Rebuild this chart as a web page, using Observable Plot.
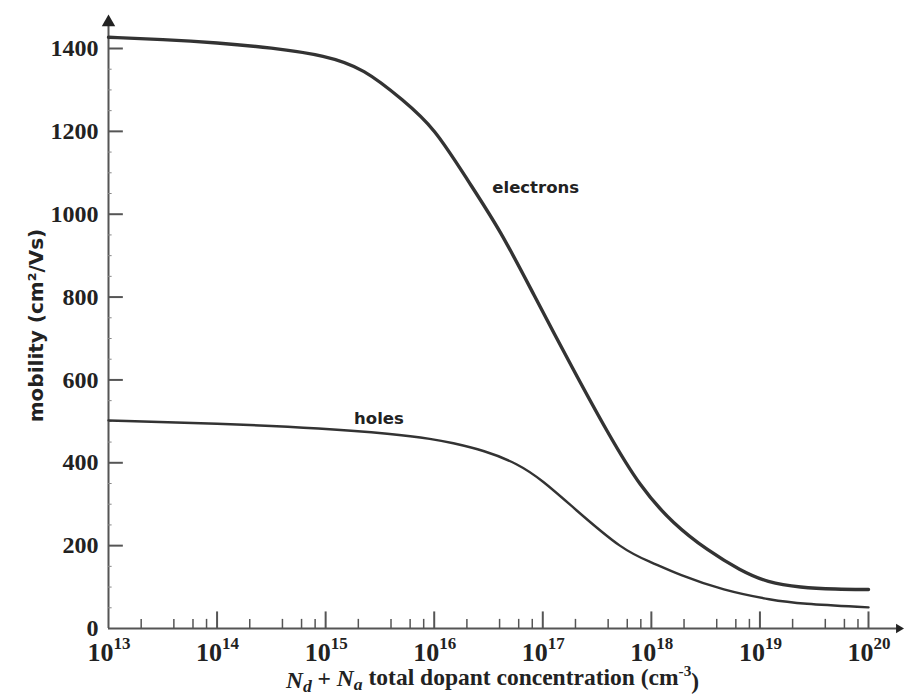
<!DOCTYPE html>
<html><head><meta charset="utf-8">
<script src="https://cdn.jsdelivr.net/npm/d3@7"></script>
<script src="https://cdn.jsdelivr.net/npm/@observablehq/plot@0.6"></script>
<style>body{margin:0;background:#fff} #chart svg{display:block}</style>
</head><body><div id="chart"></div>
<script>
// Si carrier mobility vs total dopant concentration; x given as log10(cm^-3)
const electronLogConc = [13, 13.5, 14, 14.5, 15, 15.35, 15.72, 16, 16.31, 16.61, 16.91, 17.28, 17.6, 17.9, 18.2, 18.52, 18.82, 19.07, 19.37, 19.7, 20];
const electronMobility = [1427, 1422, 1414, 1402, 1383, 1352, 1274, 1209, 1081, 961, 809, 625, 471, 340, 253, 188, 140, 111, 99, 95, 94];
const holeLogConc = [13, 14, 15, 15.6, 16, 16.15, 16.46, 16.77, 17, 17.28, 17.74, 18, 18.25, 18.66, 19.12, 19.37, 20];
const holeMobility = [502, 495, 483, 470, 457, 449, 430, 398, 357, 292, 188, 160, 130, 92, 68, 60, 51];

const yTicks = [0, 200, 400, 600, 800, 1000, 1200, 1400];
const yMinorTicks = [50, 100, 150, 250, 300, 350, 450, 500, 550, 650, 700, 750, 850, 900, 950, 1050, 1100, 1150, 1250, 1300, 1350];
const xDecades = [1e13, 1e14, 1e15, 1e16, 1e17, 1e18, 1e19, 1e20];
const xExponents = ["13", "14", "15", "16", "17", "18", "19", "20"];
const minorMultipliers = [2, 4, 6, 8];

const curveLabels = ["electrons", "holes"];
const curveLabelConc = [8.6e16, 3.1e15];
const curveLabelMobility = [1064, 507];

const yTitle = "mobility (cm²/Vs)";
const xTitle = "Nd + Na total dopant concentration (cm-3)";

const electrons = electronLogConc.map((e, i) => ({c: 10 ** e, m: electronMobility[i]}));
const holes = holeLogConc.map((e, i) => ({c: 10 ** e, m: holeMobility[i]}));
const xMinor = xDecades.slice(0, -1).flatMap(d => minorMultipliers.map(k => k * d));
const labels = curveLabels.map((t, i) => ({t, c: curveLabelConc[i], m: curveLabelMobility[i]}));

const ink = "#222";
const axisInk = "#555";

const plot = Plot.plot({
  width: 904, height: 696,
  marginLeft: 108, marginRight: 36, marginTop: 48, marginBottom: 68,
  x: {type: "log", domain: [1e13, 1e20], axis: null},
  y: {domain: [0, 1400]},
  style: {background: "#fff", overflow: "visible"},
  marks: [
    Plot.axisY(yTicks, {tickSize: 0, tickPadding: 10, tickFormat: d => String(d), fontSize: 24, fontWeight: "bold", fontFamily: "Liberation Serif", fill: ink, label: null}),
    // axis lines with arrowheads
    Plot.ruleX([1e13], {y1: 0, y2: 1455, stroke: axisInk, strokeWidth: 2}),
    Plot.ruleY([0], {x1: 1e13, x2: 1.85e20, stroke: axisInk, strokeWidth: 2}),
    Plot.dot([{x: 1e13, y: 1463}], {x: "x", y: "y", symbol: "triangle", r: 5, fill: ink, stroke: null}),
    Plot.dot([{x: 1.9e20, y: 0}], {x: "x", y: "y", symbol: "triangle", r: 3.5, rotate: 90, fill: ink, stroke: null}),
    // y ticks (inward)
    Plot.ruleY(yTicks.filter(v => v > 0), {x1: 1e13, x2: 1.37e13, stroke: axisInk, strokeWidth: 2}),
    Plot.ruleY(yMinorTicks, {x1: 1e13, x2: 1.08e13, stroke: "#888", strokeWidth: 1}),
    // x ticks (inward)
    Plot.ruleX(xDecades.slice(1), {y1: 0, y2: 40, stroke: axisInk, strokeWidth: 2}),
    Plot.ruleX(xMinor, {y1: 0, y2: 22, stroke: axisInk, strokeWidth: 1.5}),
    // x tick labels 10^n
    Plot.text(xDecades, {x: d => d, y: () => 0, text: () => "10", textAnchor: "end", lineAnchor: "bottom", dx: 5, dy: 32, fontSize: 26, fontWeight: "bold", fontFamily: "Liberation Serif", fill: ink}),
    Plot.text(xDecades, {x: d => d, y: () => 0, text: (d, i) => xExponents[i], textAnchor: "start", lineAnchor: "bottom", dx: 5, dy: 20, fontSize: 17, fontWeight: "bold", fontFamily: "Liberation Serif", fill: ink}),
    // curves
    Plot.line(electrons, {x: "c", y: "m", stroke: "#333", strokeWidth: 3.4, curve: "basis"}),
    Plot.line(holes, {x: "c", y: "m", stroke: "#333", strokeWidth: 2.4, curve: "basis"}),
    Plot.text(labels, {x: "c", y: "m", text: "t", fontSize: 16.5, fontWeight: "bold", fontFamily: "DejaVu Sans", fill: ink}),
    // axis titles
    Plot.text([yTitle], {frameAnchor: "left", textAnchor: "middle", rotate: -90, dx: -72, dy: -13, fontSize: 20, fontWeight: "bold", fontFamily: "DejaVu Sans", fill: ink}),
    Plot.text([xTitle], {frameAnchor: "bottom", textAnchor: "middle", lineAnchor: "bottom", dx: 4, dy: 59, fontSize: 23.5, fontWeight: "bold", fontFamily: "Liberation Serif", fill: ink})
  ]
});

// rich formatting of the x title (italic N with subscripts, superscript exponent)
d3.select(plot).selectAll("text").filter(function() { return this.textContent === xTitle; }).each(function() {
  const t = d3.select(this);
  t.text(null);
  t.append("tspan").attr("font-style", "italic").text("N");
  t.append("tspan").attr("font-style", "italic").attr("font-size", "0.75em").attr("dy", "0.25em").text("d");
  t.append("tspan").attr("dy", "-0.25em").text(" + ");
  t.append("tspan").attr("font-style", "italic").text("N");
  t.append("tspan").attr("font-style", "italic").attr("font-size", "0.75em").attr("dy", "0.25em").text("a");
  t.append("tspan").attr("dy", "-0.25em").text(" total dopant concentration (cm");
  t.append("tspan").attr("font-size", "0.65em").attr("dy", "-0.55em").text("-3");
  t.append("tspan").attr("dy", "0.55em").text(")");
});

document.getElementById("chart").appendChild(plot);
</script>
</body></html>
